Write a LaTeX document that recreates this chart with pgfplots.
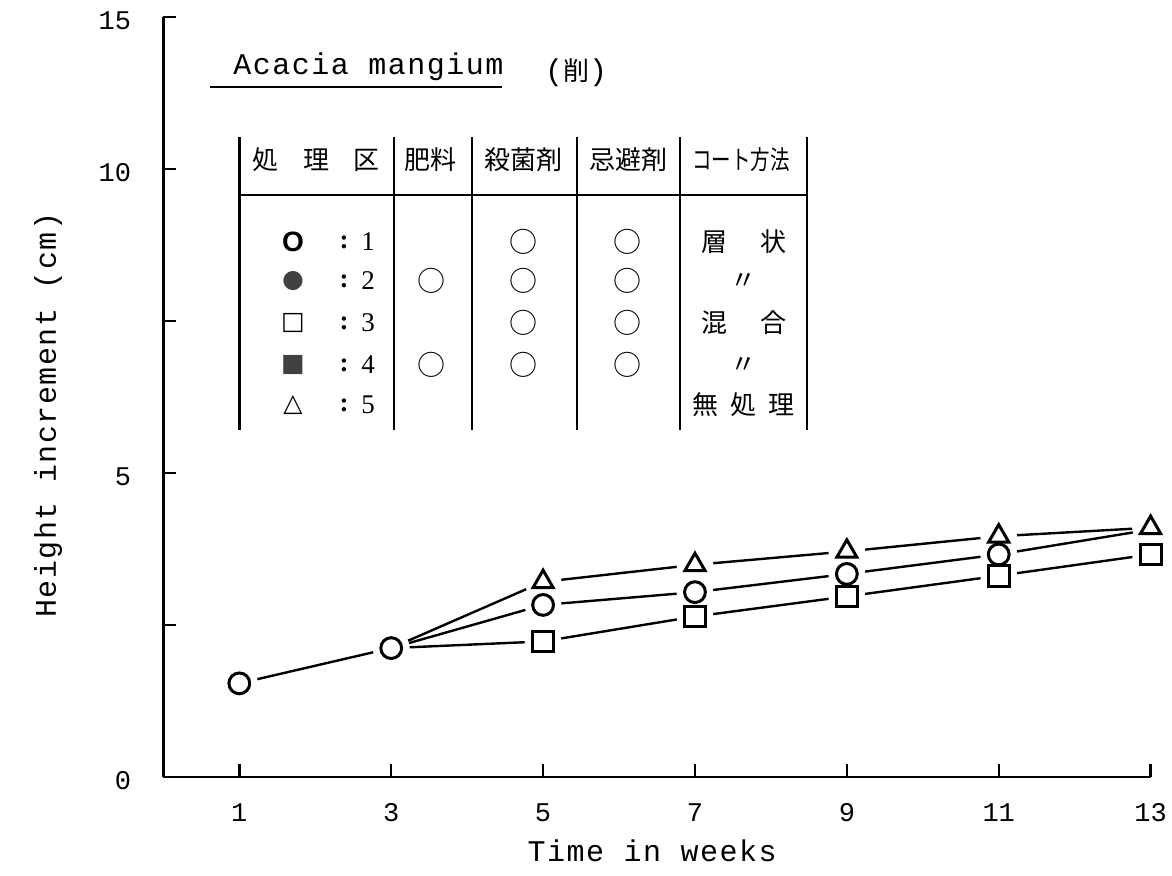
\documentclass[border=0pt]{standalone}
\usepackage{fontspec}
\usepackage{pgfplots}
\usepackage{pgfplotstable}
\pgfplotsset{compat=1.18}
\setmainfont{Liberation Serif}
\newfontfamily\mono{Liberation Mono}
\newfontfamily\monols{Liberation Mono}[LetterSpace=5]
\newfontfamily\cjk{Noto Sans CJK JP}
\newfontfamily\dejavu{DejaVu Sans}
\newfontfamily\lsans{Liberation Sans}
\newcommand\tickfont{\fontsize{13.5}{16}\mono}
\newcommand\labfont{\fontsize{15}{17}\monols}
\newcommand\jfont{\fontsize{13}{15}\cjk}

\pgfplotstableread{
x y
1 1.54
3 2.12
5 2.83
7 3.04
9 3.34
11 3.66
13 4.07
}\circdata
\pgfplotstableread{
x y
3 2.12
5 2.23
7 2.64
9 2.97
11 3.31
13 3.66
}\sqdata
\pgfplotstableread{
x y
3 2.12
5 3.21
7 3.49
9 3.71
11 3.96
13 4.10
}\tridata

\begin{document}
\begin{tikzpicture}
\begin{axis}[
  scale only axis, width=493.6pt, height=380pt,
  xmin=0, xmax=13, ymin=0, ymax=12.5,
  axis x line*=bottom, axis y line*=left,
  axis line style={line width=1.3pt, black},
  xtick={1,3,5,7,9,11,13},
  ytick={0,2.5,5,7.5,10,12.5}, yticklabels={0,,5,,10,15},
  tick align=inside, major tick length=6.5pt,
  tick style={line width=1.2pt, black},
  /pgf/number format/assume math mode=true,
  ticklabel style={font=\tickfont},
  yticklabel style={inner sep=0pt, anchor=east, xshift=-16pt, yshift=-2pt},
  xticklabel style={inner sep=0pt, anchor=north, yshift=-13.25pt},
  xlabel={Time in weeks},
  ylabel={Height increment (cm)},
  label style={font=\labfont},
  xlabel style={at={(axis description cs:0.495,-0.0974)}, anchor=center},
  ylabel style={at={(axis description cs:-0.1169,0.476)}, anchor=center},
  clip=false,
]
\coordinate (O) at (rel axis cs:0,0);
% lines
\addplot[line width=1.2pt, black, no marks] table[x=x,y=y]{\circdata};
\addplot[line width=1.2pt, black, no marks] table[x=x,y=y]{\sqdata};
\addplot[line width=1.2pt, black, no marks] table[x=x,y=y]{\tridata};
% white halos (gaps between lines and symbols)
\addplot[only marks, white, mark=*, mark size=9pt, mark options={draw=white, fill=white},
  skip coords between index={6}{7}] table[x=x,y=y]{\circdata};
\addplot[only marks, white, mark=*, mark size=9pt, mark options={draw=white, fill=white},
  skip coords between index={0}{1}] table[x=x,y=y]{\sqdata};
\addplot[only marks, white, mark=*, mark size=9pt, mark options={draw=white, fill=white},
  skip coords between index={0}{1}] table[x=x,y=y]{\tridata};
% symbols
\addplot[only marks, black, mark=o, mark size=5.2pt, mark options={line width=1.5pt, black},
  skip coords between index={6}{7}] table[x=x,y=y]{\circdata};
\addplot[only marks, black, mark=square, mark size=5.2pt, mark options={line width=1.5pt, black},
  skip coords between index={0}{1}] table[x=x,y=y]{\sqdata};
\addplot[only marks, black, mark=triangle, mark size=5.8pt, mark options={line width=1.5pt, black},
  skip coords between index={0}{1}] table[x=x,y=y]{\tridata};
\end{axis}

\begin{scope}[shift={(O)}]
\begin{scope}[x=0.5pt, y=-0.5pt, shift={(-81.7pt,388.5pt)}]
  % title
  \node[anchor=base west, inner sep=0pt, font=\labfont] at (233,75) {Acacia mangium};
  \draw[line width=0.8pt] (210,87) -- (502,87);
  \node[anchor=center, inner sep=0pt] at (576,73) {{\labfont(}{\jfont 削}{\labfont)}};
  % table frame
  \foreach \xx in {239.5,394,472,577,680,807}
    \draw[line width=1.1pt] (\xx,137) -- (\xx,430);
  \draw[line width=1.1pt] (239.5,195) -- (807,195);
  % header
  \begin{scope}[every node/.style={anchor=center, inner sep=0pt, font=\jfont}]
    \node at (265,160) {処};
    \node at (316,160) {理};
    \node at (366,160) {区};
    \node at (430,160) {肥料};
    \node at (523,160) {殺菌剤};
    \node at (628,160) {忌避剤};
    \node at (741,160) {\scalebox{0.75}[1]{コート方法}};
    % column 5
    \node at (714,242) {層}; \node at (773,242) {状};
    \node at (743,281) {〃};
    \node at (714,323) {混}; \node at (773,323) {合};
    \node at (743,365) {〃};
    \node at (705,405) {無}; \node at (743,405) {処}; \node at (781,405) {理};
    % circles of columns 2-4
    \foreach \yy in {281,365} \node[font=\fontsize{14}{16}\cjk] at (431,\yy) {○};
    \foreach \yy in {242,281,323,365} {\node[font=\fontsize{14}{16}\cjk] at (523,\yy) {○}; \node[font=\fontsize{14}{16}\cjk] at (627,\yy) {○};}
  \end{scope}
  % legend symbols
  \begin{scope}[every node/.style={anchor=center, inner sep=0pt}]
    \node[font=\fontsize{14}{16}\lsans\bfseries] at (293,242) {O};
    \node[font=\fontsize{12.5}{14}\dejavu, text=black!75] at (293,281) {●};
    \node[font=\fontsize{12.5}{14}\dejavu\bfseries] at (293,323) {□};
    \node[font=\fontsize{12.5}{14}\dejavu, text=black!75] at (293,365) {■};
    \node[font=\fontsize{12.5}{14}\dejavu\bfseries] at (293,405) {△};
    \foreach \yy/\n in {242/1,281/2,323/3,365/4,405/5} {
      \node[font=\fontsize{13.5}{15}\selectfont\bfseries] at (344,\yy) {:};
      \node[font=\fontsize{13.5}{15}\selectfont] at (368,\yy) {\n};
    }
  \end{scope}
  \pgfresetboundingbox
  \path (0,0) rectangle (1172,876);
\end{scope}
\end{scope}
\end{tikzpicture}
\end{document}
